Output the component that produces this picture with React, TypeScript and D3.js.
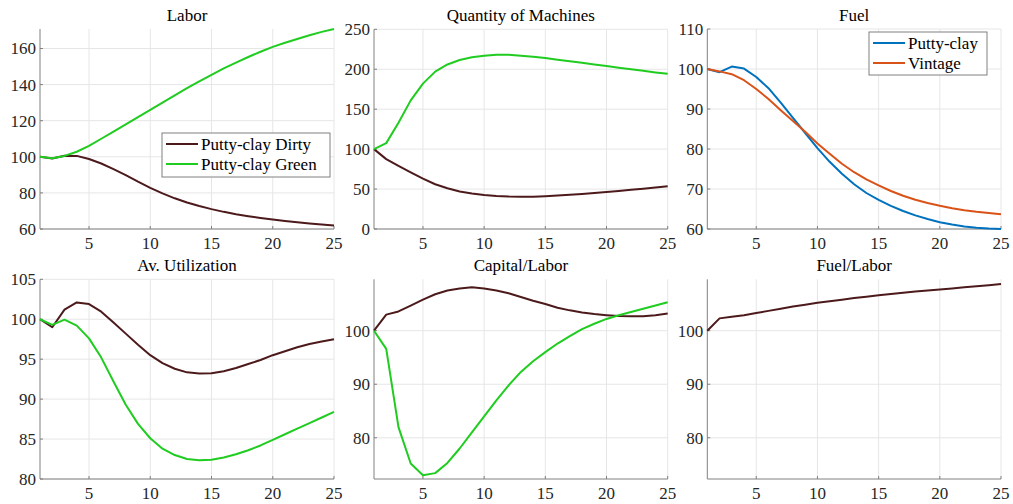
import React from 'react';
import * as d3 from 'd3';

const periods = [1, 2, 3, 4, 5, 6, 7, 8, 9, 10, 11, 12, 13, 14, 15, 16, 17, 18, 19, 20, 21, 22, 23, 24, 25];

const laborDirty = [100, 99.1, 100.6, 100.5, 98.8, 96.3, 93.2, 89.8, 86.2, 82.8, 79.7, 77, 74.7, 72.7, 71, 69.5, 68.2, 67.1, 66.1, 65.2, 64.4, 63.7, 63.1, 62.5, 62];
const laborGreen = [100, 99.2, 100.5, 102.8, 106, 110, 114, 118, 122, 126, 130, 134, 138, 141.8, 145.4, 149, 152.2, 155.3, 158.2, 160.9, 163.2, 165.3, 167.3, 169.2, 170.8];

const machinesDirty = [100, 87.5, 79, 71, 63, 56, 51, 47, 44.5, 42.7, 41.3, 40.6, 40.4, 40.5, 41, 41.8, 42.8, 43.8, 45, 46.4, 47.7, 49, 50.5, 52, 53.6];
const machinesGreen = [100, 107.5, 133, 161, 182, 197, 206, 211.5, 215, 217, 218, 218, 217, 215.5, 214, 212, 210, 208, 206, 204, 202, 200, 198, 196, 194.3];

const fuelPuttyClay = [100, 99.2, 100.6, 100.1, 98, 95.2, 91.6, 87.8, 84, 80.2, 76.8, 73.8, 71.2, 69, 67.3, 65.8, 64.5, 63.4, 62.5, 61.7, 61.1, 60.6, 60.3, 60.1, 60];
const fuelVintage = [100, 99.4, 98.7, 97.2, 95, 92.5, 89.7, 87, 84.3, 81.4, 78.8, 76.3, 74.2, 72.4, 70.9, 69.5, 68.3, 67.3, 66.5, 65.8, 65.2, 64.7, 64.3, 64, 63.7];

const utilDirty = [100, 99, 101.2, 102.1, 101.9, 100.95, 99.6, 98.2, 96.8, 95.5, 94.5, 93.8, 93.35, 93.2, 93.25, 93.5, 93.9, 94.4, 94.9, 95.5, 96, 96.5, 96.9, 97.2, 97.5];
const utilGreen = [100, 99.3, 99.95, 99.2, 97.6, 95.2, 92.2, 89.3, 86.9, 85.1, 83.8, 83, 82.5, 82.35, 82.4, 82.7, 83.1, 83.6, 84.2, 84.9, 85.6, 86.3, 87, 87.7, 88.4];

const kLaborDirty = [100, 103, 103.6, 104.7, 105.8, 106.8, 107.5, 107.9, 108.1, 107.9, 107.5, 107, 106.3, 105.6, 105, 104.3, 103.8, 103.4, 103.1, 102.9, 102.75, 102.7, 102.7, 102.9, 103.2];
const kLaborGreen = [100, 96.6, 82, 75.2, 73, 73.4, 75.3, 78, 81, 84, 87, 89.8, 92.3, 94.3, 96, 97.6, 99, 100.3, 101.3, 102.2, 102.9, 103.5, 104.1, 104.7, 105.3];

const fuelLaborDirty = [100, 102.3, 102.6, 102.9, 103.3, 103.7, 104.1, 104.5, 104.85, 105.2, 105.5, 105.8, 106.1, 106.35, 106.6, 106.85, 107.1, 107.3, 107.5, 107.7, 107.9, 108.1, 108.3, 108.5, 108.7];

const xTicks = [5, 10, 15, 20, 25];

const DIRTY = '#4d1a1c';
const GREEN = '#1fcc1f';
const BLUE = '#0072bd';
const ORANGE = '#d95319';

const FONT = "'Liberation Serif', 'Times New Roman', Times, 'DejaVu Serif', 'Noto Serif', Georgia, serif";
const AXIS = '#808080';
const GRID = '#e6e6e6';
const txt = { fontFamily: FONT, fontSize: 17 };

type Series = { name: string; values: number[]; color: string };
type Panel = {
  title: string;
  x0: number; x1: number; y0: number; y1: number;
  domain: [number, number];
  yTicks: number[];
  series: Series[];
  legend?: { x: number; y: number; w: number; h: number };
};

const panels: Panel[] = [
  {
    title: 'Labor', x0: 40, x1: 334, y0: 29, y1: 229, domain: [60, 170.8],
    yTicks: [60, 80, 100, 120, 140, 160],
    series: [
      { name: 'Putty-clay Dirty', values: laborDirty, color: DIRTY },
      { name: 'Putty-clay Green', values: laborGreen, color: GREEN },
    ],
    legend: { x: 162, y: 133, w: 168, h: 44 },
  },
  {
    title: 'Quantity of Machines', x0: 374, x1: 667.7, y0: 29.3, y1: 229, domain: [0, 250],
    yTicks: [0, 50, 100, 150, 200, 250],
    series: [
      { name: 'Putty-clay Dirty', values: machinesDirty, color: DIRTY },
      { name: 'Putty-clay Green', values: machinesGreen, color: GREEN },
    ],
  },
  {
    title: 'Fuel', x0: 707.3, x1: 1001, y0: 29, y1: 229, domain: [60, 110],
    yTicks: [60, 70, 80, 90, 100, 110],
    series: [
      { name: 'Putty-clay', values: fuelPuttyClay, color: BLUE },
      { name: 'Vintage', values: fuelVintage, color: ORANGE },
    ],
    legend: { x: 869, y: 32, w: 118, h: 43 },
  },
  {
    title: 'Av. Utilization', x0: 40, x1: 334, y0: 279.3, y1: 479, domain: [80, 105],
    yTicks: [80, 85, 90, 95, 100, 105],
    series: [
      { name: 'Putty-clay Dirty', values: utilDirty, color: DIRTY },
      { name: 'Putty-clay Green', values: utilGreen, color: GREEN },
    ],
  },
  {
    title: 'Capital/Labor', x0: 374, x1: 667.7, y0: 279.3, y1: 479, domain: [72.3, 109.6],
    yTicks: [80, 90, 100],
    series: [
      { name: 'Putty-clay Dirty', values: kLaborDirty, color: DIRTY },
      { name: 'Putty-clay Green', values: kLaborGreen, color: GREEN },
    ],
  },
  {
    title: 'Fuel/Labor', x0: 707.3, x1: 1001, y0: 279.3, y1: 479, domain: [72.3, 109.6],
    yTicks: [80, 90, 100],
    series: [
      { name: 'Putty-clay Dirty', values: fuelLaborDirty, color: DIRTY },
    ],
  },
];

const PanelChart = ({ p }: { p: Panel }) => {
  const x = d3.scaleLinear().domain([1, 25]).range([p.x0, p.x1]);
  const y = d3.scaleLinear().domain(p.domain).range([p.y1, p.y0]);
  const line = d3.line<number>()
    .x((_, i) => x(periods[i]))
    .y(d => y(d));

  return (
    <g>
      {/* grid */}
      {xTicks.map(t => (
        <line key={'gx' + t} x1={x(t)} x2={x(t)} y1={p.y0} y2={p.y1} stroke={GRID} strokeWidth={1} />
      ))}
      {p.yTicks.map(t => (
        <line key={'gy' + t} x1={p.x0} x2={p.x1} y1={y(t)} y2={y(t)} stroke={GRID} strokeWidth={1} />
      ))}
      {/* axes */}
      <line x1={p.x0} x2={p.x0} y1={p.y0} y2={p.y1} stroke={AXIS} strokeWidth={1} />
      <line x1={p.x0} x2={p.x1} y1={p.y1} y2={p.y1} stroke={AXIS} strokeWidth={1} />
      {xTicks.map(t => (
        <g key={'tx' + t}>
          <line x1={x(t)} x2={x(t)} y1={p.y1} y2={p.y1 - 3} stroke={AXIS} />
          <text x={x(t)} y={p.y1 + 20} textAnchor="middle" style={txt} fill="#262626">{t}</text>
        </g>
      ))}
      {p.yTicks.map(t => (
        <g key={'ty' + t}>
          <line x1={p.x0} x2={p.x0 + 3} y1={y(t)} y2={y(t)} stroke={AXIS} />
          <text x={p.x0 - 4} y={y(t)} dy="0.35em" textAnchor="end" style={txt} fill="#262626">{t}</text>
        </g>
      ))}
      <text x={(p.x0 + p.x1) / 2} y={p.y0 - 8} textAnchor="middle" style={txt} fill="#000">{p.title}</text>
      {/* lines */}
      {p.series.map(s => (
        <path key={s.name} d={line(s.values) || ''} fill="none" stroke={s.color} strokeWidth={2} strokeLinejoin="round" />
      ))}
      {p.legend && (
        <g>
          <rect x={p.legend.x} y={p.legend.y} width={p.legend.w} height={p.legend.h} fill="#fff" stroke={AXIS} strokeWidth={1} />
          {p.series.map((s, i) => {
            const cy = p.legend!.y + 11 + i * 20;
            return (
              <g key={'lg' + s.name}>
                <line x1={p.legend!.x + 4} x2={p.legend!.x + 36} y1={cy} y2={cy} stroke={s.color} strokeWidth={2} />
                <text x={p.legend!.x + 39} y={cy} dy="0.35em" style={txt} fill="#000">{s.name}</text>
              </g>
            );
          })}
        </g>
      )}
    </g>
  );
};

const App = () => (
  <svg width={1013} height={504} style={{ position: 'absolute', left: 0, top: 0, background: '#fff' }}>
    <rect width={1013} height={504} fill="#fff" />
    {panels.map(p => <PanelChart key={p.title} p={p} />)}
  </svg>
);

export default App;
